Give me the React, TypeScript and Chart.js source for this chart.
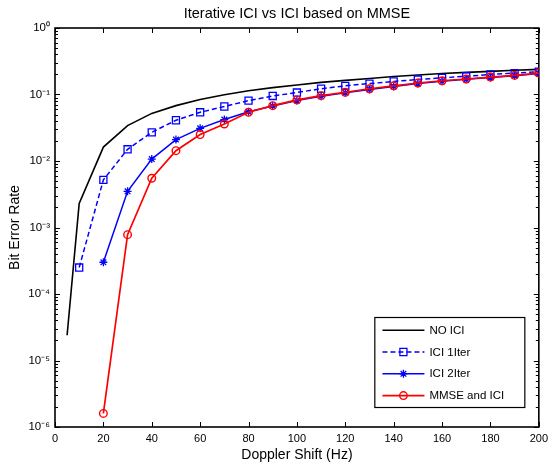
import React, { useEffect, useRef } from 'react';
import { Chart, registerables } from 'chart.js';

Chart.register(...registerables);

const titleText = 'Iterative ICI vs ICI based on MMSE';
const xTitle = 'Doppler Shift (Hz)';
const yTitle = 'Bit Error Rate';

const seriesLabels = ['NO ICI', 'ICI 1Iter', 'ICI 2Iter', 'MMSE and ICI'];

const noIciX = [5, 10, 20, 30, 40, 50, 60, 70, 80, 90, 100, 110, 120, 130, 140, 150, 160, 170, 180, 190, 200];
const noIciY = [2.4e-5, 2.3e-3, 0.0162, 0.034, 0.052, 0.068, 0.084, 0.099, 0.114, 0.127, 0.139, 0.152, 0.163, 0.174, 0.186, 0.196, 0.207, 0.215, 0.223, 0.231, 0.239];

const iter1X = [10, 20, 30, 40, 50, 60, 70, 80, 90, 100, 110, 120, 130, 140, 150, 160, 170, 180, 190, 200];
const iter1Y = [2.5e-4, 5.2e-3, 0.015, 0.027, 0.041, 0.054, 0.066, 0.081, 0.095, 0.107, 0.122, 0.135, 0.146, 0.157, 0.168, 0.178, 0.188, 0.2, 0.21, 0.22];

const iter2X = [20, 30, 40, 50, 60, 70, 80, 90, 100, 110, 120, 130, 140, 150, 160, 170, 180, 190, 200];
const iter2Y = [3.0e-4, 3.5e-3, 0.0107, 0.021, 0.031, 0.042, 0.055, 0.067, 0.081, 0.094, 0.106, 0.119, 0.132, 0.146, 0.158, 0.169, 0.18, 0.191, 0.206];

const mmseX = [20, 30, 40, 50, 60, 70, 80, 90, 100, 110, 120, 130, 140, 150, 160, 170, 180, 190, 200];
const mmseY = [1.6e-6, 7.8e-4, 5.5e-3, 0.0143, 0.025, 0.036, 0.054, 0.068, 0.083, 0.096, 0.108, 0.122, 0.135, 0.149, 0.161, 0.171, 0.183, 0.194, 0.21];

const xTicks = [0, 20, 40, 60, 80, 100, 120, 140, 160, 180, 200];
const yDecades = [1e-6, 1e-5, 1e-4, 1e-3, 1e-2, 1e-1, 1];
const yTickLabels = ['10\u207B\u2076', '10\u207B\u2075', '10\u207B\u2074', '10\u207B\u00B3', '10\u207B\u00B2', '10\u207B\u00B9', '10\u2070'];
const yMinorMult = [2, 3, 4, 5, 6, 7, 8, 9];

const FONT = "'Liberation Sans', Arial, Helvetica, sans-serif";

const toPoints = (xs: number[], ys: number[]) => xs.map((x, i) => ({ x, y: ys[i] }));

function drawMarker(ctx: CanvasRenderingContext2D, style: string, r: number, x: number, y: number) {
  ctx.beginPath();
  if (style === 'rect') {
    const s = Math.SQRT1_2 * r;
    ctx.rect(x - s, y - s, 2 * s, 2 * s);
  } else if (style === 'circle') {
    ctx.arc(x, y, r, 0, Math.PI * 2);
  } else if (style === 'star') {
    for (let k = 0; k < 4; k++) {
      const a = (k * Math.PI) / 4;
      ctx.moveTo(x + Math.cos(a) * r, y + Math.sin(a) * r);
      ctx.lineTo(x - Math.cos(a) * r, y - Math.sin(a) * r);
    }
  }
  ctx.stroke();
}

const framePlugin = {
  id: 'frameTicks',
  beforeDatasetsDraw(chart: any) {
    const { ctx, chartArea, scales } = chart;
    const { left, right, top, bottom } = chartArea;
    const xs = scales.x;
    const ys = scales.y;
    ctx.save();
    ctx.strokeStyle = '#000';
    ctx.lineWidth = 1;
    ctx.beginPath();
    for (const v of xTicks) {
      const px = Math.round(xs.getPixelForValue(v)) + 0.5;
      ctx.moveTo(px, bottom);
      ctx.lineTo(px, bottom - 5);
      ctx.moveTo(px, top);
      ctx.lineTo(px, top + 5);
    }
    for (const d of yDecades) {
      const py = Math.round(ys.getPixelForValue(d)) + 0.5;
      ctx.moveTo(left, py);
      ctx.lineTo(left + 5, py);
      ctx.moveTo(right, py);
      ctx.lineTo(right - 5, py);
      if (d < 1) {
        for (const m of yMinorMult) {
          const pm = Math.round(ys.getPixelForValue(d * m)) + 0.5;
          ctx.moveTo(left, pm);
          ctx.lineTo(left + 3, pm);
          ctx.moveTo(right, pm);
          ctx.lineTo(right - 3, pm);
        }
      }
    }
    ctx.stroke();
    ctx.lineWidth = 1.6;
    ctx.strokeRect(left, top, right - left, bottom - top);
    ctx.restore();
  },
};

const legendPlugin = {
  id: 'boxLegend',
  afterDatasetsDraw(chart: any) {
    const { ctx, chartArea } = chart;
    const bx = chartArea.right - 164;
    const by = chartArea.bottom - 109.5;
    const bw = 150;
    const bh = 90;
    ctx.save();
    ctx.fillStyle = '#fff';
    ctx.fillRect(bx, by, bw, bh);
    ctx.strokeStyle = '#000';
    ctx.lineWidth = 1.2;
    ctx.strokeRect(bx, by, bw, bh);
    chart.data.datasets.forEach((ds: any, i: number) => {
      const cy = by + 12.7 + i * 21.8;
      const x0 = bx + 7.6;
      const x1 = bx + 49.6;
      ctx.strokeStyle = ds.borderColor;
      ctx.lineWidth = ds.borderWidth;
      ctx.setLineDash(ds.borderDash || []);
      ctx.beginPath();
      ctx.moveTo(x0, cy);
      ctx.lineTo(x1, cy);
      ctx.stroke();
      ctx.setLineDash([]);
      if (ds.pointRadius > 0) {
        ctx.lineWidth = ds.pointBorderWidth;
        ctx.strokeStyle = ds.pointBorderColor;
        drawMarker(ctx, ds.pointStyle, ds.pointRadius, (x0 + x1) / 2, cy);
      }
      ctx.fillStyle = '#000';
      ctx.font = `11.5px ${FONT}`;
      ctx.textAlign = 'left';
      ctx.textBaseline = 'middle';
      ctx.fillText(ds.label, bx + 54.6, cy + 0.5);
    });
    ctx.restore();
  },
};

export default function App() {
  const canvasRef = useRef<HTMLCanvasElement | null>(null);

  useEffect(() => {
    const canvas = canvasRef.current;
    if (!canvas) return;
    const chart = new Chart(canvas, {
      type: 'line',
      data: {
        datasets: [
          {
            label: seriesLabels[0],
            data: toPoints(noIciX, noIciY),
            borderColor: '#000000',
            borderWidth: 1.6,
            pointRadius: 0,
            pointHoverRadius: 0,
            order: 4,
          },
          {
            label: seriesLabels[1],
            data: toPoints(iter1X, iter1Y),
            borderColor: '#0000ff',
            borderWidth: 1.5,
            borderDash: [5, 3],
            pointStyle: 'rect',
            pointRadius: 5,
            pointBorderWidth: 1.3,
            pointBorderColor: '#0000ff',
            pointBackgroundColor: 'rgba(0,0,0,0)',
            order: 3,
          },
          {
            label: seriesLabels[2],
            data: toPoints(iter2X, iter2Y),
            borderColor: '#0000ff',
            borderWidth: 1.5,
            pointStyle: 'star',
            pointRadius: 4,
            pointBorderWidth: 1.3,
            pointBorderColor: '#0000ff',
            pointBackgroundColor: 'rgba(0,0,0,0)',
            order: 2,
          },
          {
            label: seriesLabels[3],
            data: toPoints(mmseX, mmseY),
            borderColor: '#ff0000',
            borderWidth: 1.7,
            pointStyle: 'circle',
            pointRadius: 3.8,
            pointBorderWidth: 1.4,
            pointBorderColor: '#ff0000',
            pointBackgroundColor: 'rgba(0,0,0,0)',
            order: 1,
          },
        ] as any,
      },
      options: {
        animation: false,
        responsive: false,
        devicePixelRatio: 1,
        parsing: false as any,
        layout: { padding: { left: 0, right: 10, top: 0, bottom: 0 } },
        plugins: {
          legend: { display: false },
          tooltip: { enabled: false },
          title: {
            display: true,
            text: titleText,
            fullSize: false,
            color: '#000',
            font: { family: FONT, size: 14.5, weight: 'normal' },
            padding: { top: 5, bottom: 5.6 },
          },
        },
        scales: {
          x: {
            type: 'linear',
            min: 0,
            max: 200,
            afterBuildTicks: (scale: any) => {
              scale.ticks = xTicks.map((v) => ({ value: v }));
            },
            afterFit: (scale: any) => {
              scale.height = 41;
            },
            grid: { display: false, drawTicks: false, tickLength: 0 },
            border: { display: false },
            ticks: {
              color: '#000',
              font: { family: FONT, size: 11 },
              padding: 5,
              maxRotation: 0,
              autoSkip: false,
            },
            title: {
              display: true,
              text: xTitle,
              color: '#000',
              font: { family: FONT, size: 14 },
              padding: { top: 0, bottom: 4 },
            },
          },
          y: {
            type: 'logarithmic',
            min: 1e-6,
            max: 1,
            afterBuildTicks: (scale: any) => {
              scale.ticks = yDecades.map((v) => ({ value: v }));
            },
            afterFit: (scale: any) => {
              scale.width = 55;
            },
            grid: { display: false, drawTicks: false, tickLength: 0 },
            border: { display: false },
            ticks: {
              color: '#000',
              font: { family: FONT, size: 11.5 },
              padding: 5,
              autoSkip: false,
              callback: (value: any) => {
                const idx = yDecades.findIndex((d) => Math.abs(Math.log10(d) - Math.log10(Number(value))) < 1e-6);
                return idx >= 0 ? yTickLabels[idx] : '';
              },
            },
            title: {
              display: true,
              text: yTitle,
              color: '#000',
              font: { family: FONT, size: 14 },
              padding: { top: 7, bottom: 0 },
            },
          },
        },
      } as any,
      plugins: [framePlugin, legendPlugin],
    });
    return () => chart.destroy();
  }, []);

  return (
    <div style={{ position: 'absolute', left: 0, top: 0, width: 553, height: 468, background: '#fff' }}>
      <canvas ref={canvasRef} width={553} height={468} style={{ display: 'block' }} />
    </div>
  );
}
